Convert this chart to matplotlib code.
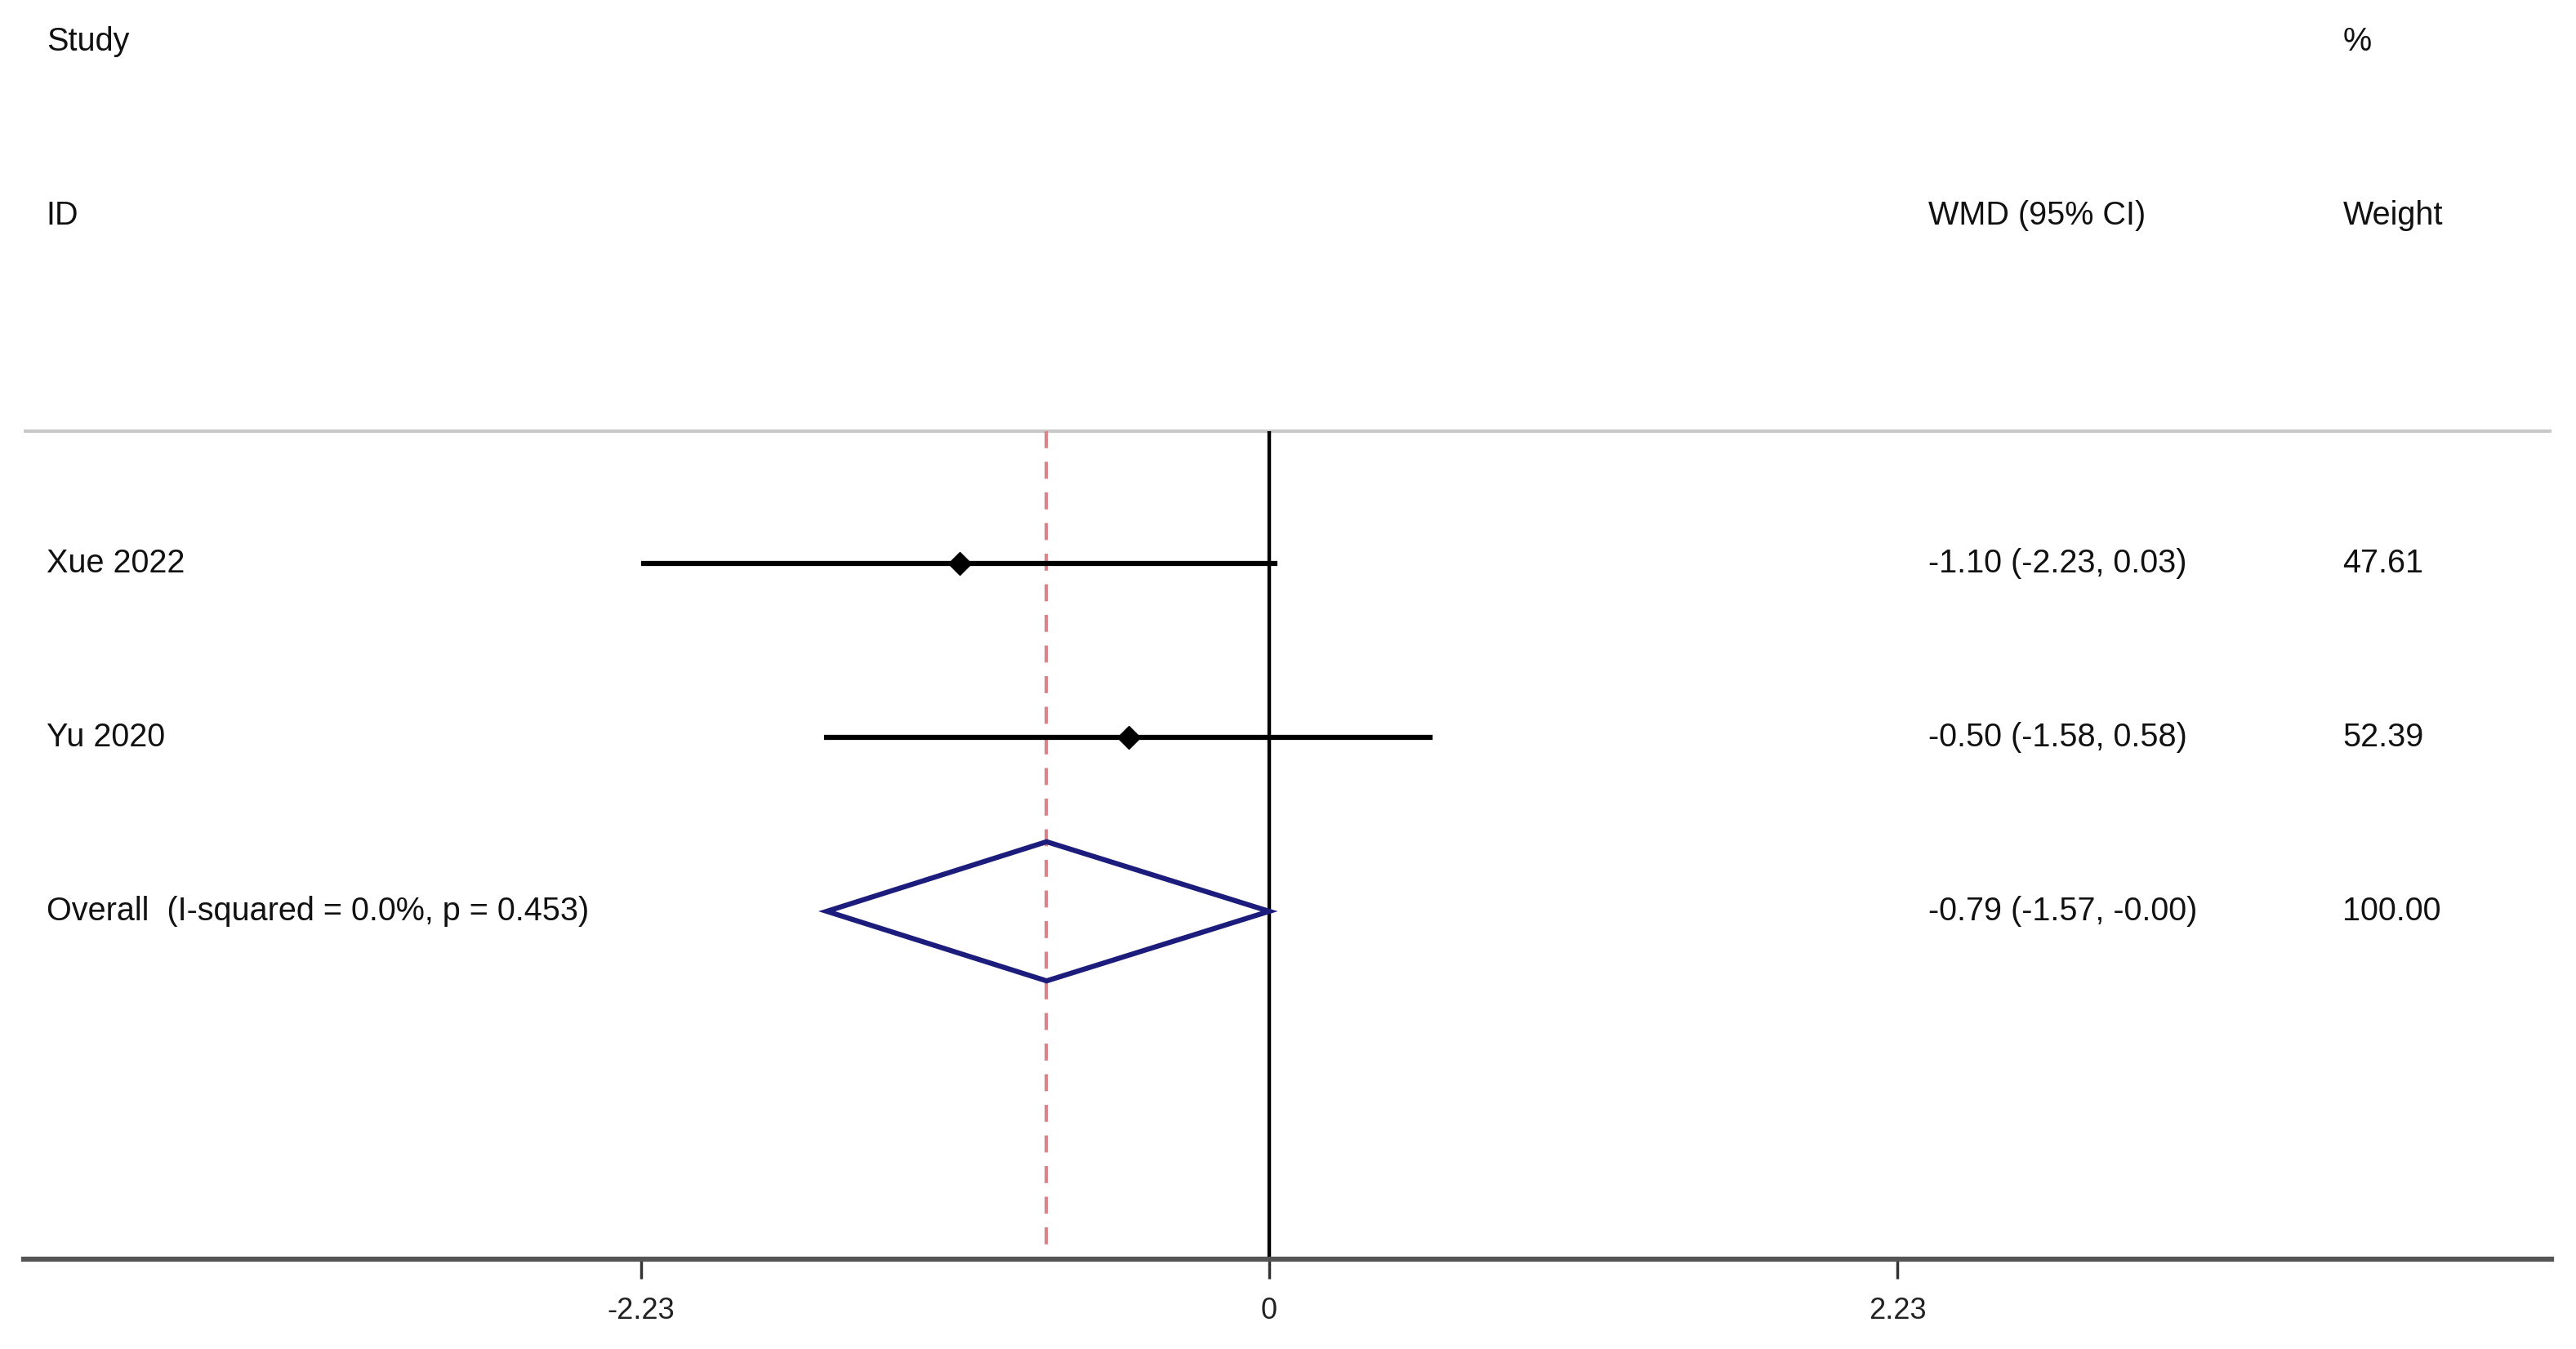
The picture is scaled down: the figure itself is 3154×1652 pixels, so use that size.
import matplotlib
matplotlib.use("Agg")
import matplotlib.pyplot as plt
from matplotlib.patches import Polygon

plt.rcParams["font.family"] = ["Liberation Sans", "DejaVu Sans"]

# study data (WMD, 95% CI, weight)
studies = ["Xue 2022", "Yu 2020"]
wmd = [-1.10, -0.50]
ci_low = [-2.23, -1.58]
ci_high = [0.03, 0.58]
weights = ["47.61", "52.39"]

overall_label = "Overall  (I-squared = 0.0%, p = 0.453)"
overall_wmd = -0.79
overall_low = -1.57
overall_high = -0.00
overall_weight = "100.00"

xticks = [-2.23, 0, 2.23]
xtick_labels = ["-2.23", "0", "2.23"]

W, H, DPI = 3154, 1652, 100
fig = plt.figure(figsize=(W / DPI, H / DPI), dpi=DPI)
ax = fig.add_axes([0, 0, 1, 1])

# data space: x in WMD units, y in row units (row 0 = first study)
px_per_unit = 345.0
x0_px = 1554.0
row_px = 213.0
row0_px = 690.0
ax.set_xlim(-x0_px / px_per_unit, (W - x0_px) / px_per_unit)
ax.set_ylim((H - row0_px) / row_px, -row0_px / row_px)

fs = 28.5
col_est = 2.34
col_w = 3.81
col_study = -4.34
txt = dict(fontsize=fs, va="center", ha="left", color="#111111")

# headers
ax.text(col_study, -3.0, "Study", **txt)
ax.text(col_study, -2.0, "ID", **txt)
ax.text(col_est, -2.0, "WMD (95% CI)", **txt)
ax.text(col_w, -3.0, "%", **txt)
ax.text(col_w, -2.0, "Weight", **txt)

top_y = -0.76
axis_y = 4.0
xmin_line, xmax_line = -4.42, 4.55

# header separator
ax.hlines(top_y, xmin_line, xmax_line, color="#c8c8c8", lw=3)

# null line and overall effect line
ax.vlines(0, top_y, axis_y, color="black", lw=3.2, zorder=2)
ax.vlines(overall_wmd, top_y, axis_y, color="#d9848a", lw=3,
          linestyles=(0, (5, 4)), zorder=2)

for i, name in enumerate(studies):
    ax.hlines(i, ci_low[i], ci_high[i], color="black", lw=4.5, zorder=3)
    ax.plot(wmd[i], i, marker="D", color="black", markersize=14, zorder=4)
    ax.text(col_study, i, name, **txt)
    ax.text(col_est, i, "{:.2f} ({:.2f}, {:.2f})".format(wmd[i], ci_low[i], ci_high[i]), **txt)
    ax.text(col_w, i, weights[i], **txt)

# overall diamond
r = len(studies)
dh = 0.4
diamond = Polygon([[overall_low, r], [overall_wmd, r - dh], [overall_high, r],
                   [overall_wmd, r + dh]], closed=True, fill=False,
                  edgecolor="#1c1c7c", lw=4.5, joinstyle="miter", zorder=4)
ax.add_patch(diamond)
ax.text(col_study, r, overall_label, **txt)
ax.text(col_est, r, "{:.2f} ({:.2f}, -{:.2f})".format(overall_wmd, overall_low, abs(overall_high)), **txt)
ax.text(col_w, r, overall_weight, **txt)

# x axis
for s in ["top", "left", "right"]:
    ax.spines[s].set_visible(False)
ax.spines["bottom"].set_position(("data", axis_y))
ax.spines["bottom"].set_bounds(xmin_line, xmax_line)
ax.spines["bottom"].set_color("#555555")
ax.spines["bottom"].set_linewidth(4.5)
ax.set_yticks([])
ax.set_xticks(xticks)
ax.set_xticklabels(xtick_labels, fontsize=26, color="#222222")
ax.tick_params(axis="x", direction="out", length=17, width=2.5, color="#333333", pad=16)

fig.savefig("out.png", dpi=DPI, facecolor="white")
